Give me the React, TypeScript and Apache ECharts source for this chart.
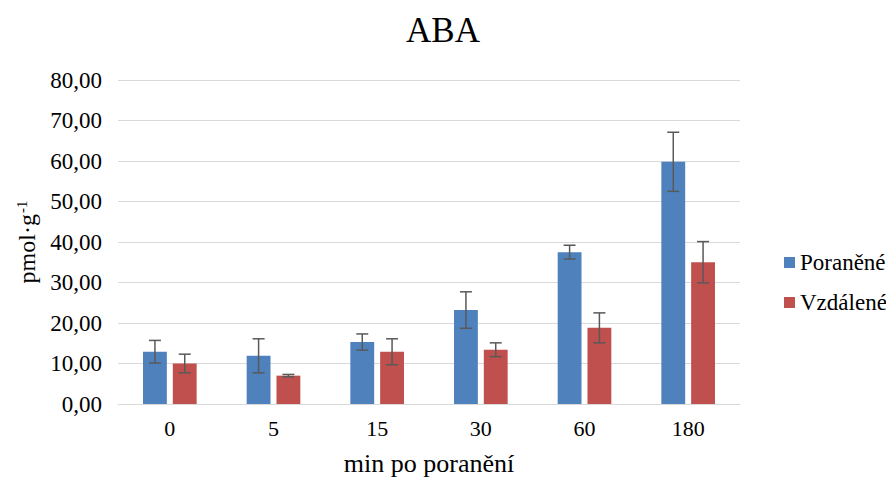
import React, { useEffect, useRef } from "react";
import * as echarts from "echarts";

const categories = ["0", "5", "15", "30", "60", "180"];
const poranene = [12.9, 11.9, 15.3, 23.2, 37.5, 59.8];
const poraneneErr = [2.8, 4.2, 2.0, 4.5, 1.7, 7.3];
const vzdalene = [10.0, 7.0, 12.9, 13.4, 18.8, 35.0];
const vzdaleneErr = [2.3, 0.3, 3.2, 1.7, 3.7, 5.1];
const yTicks = [0, 80, 10];

const SERIF = "Liberation Serif";
const BLUE = "#4F81BD";
const RED = "#C0504D";
const BAR_FRAC = 0.23;
const GAP_FRAC = 0.25;

const serif = (size: number, extra: any = {}) => ({
  fontFamily: SERIF,
  fontSize: size,
  fontWeight: "normal",
  color: "#000",
  ...extra,
});

function errSeries(name: string, vals: number[], errs: number[], sign: number) {
  return {
    type: "custom",
    name,
    z: 10,
    silent: true,
    data: vals.map((v, i) => [i, v - errs[i], v + errs[i]]),
    encode: { x: 0, y: [1, 2] },
    renderItem: (params: any, api: any) => {
      const idx = api.value(0);
      const lo = api.value(1);
      const hi = api.value(2);
      const w = api.size([1, 0])[0];
      const off = (sign * w * BAR_FRAC * (1 + GAP_FRAC)) / 2;
      const pLo = api.coord([idx, lo]);
      const pHi = api.coord([idx, hi]);
      const cx = pLo[0] + off;
      const cap = 6;
      const style = { stroke: "#595959", lineWidth: 1.5 };
      return {
        type: "group",
        children: [
          { type: "line", shape: { x1: cx, y1: pLo[1], x2: cx, y2: pHi[1] }, style },
          { type: "line", shape: { x1: cx - cap, y1: pLo[1], x2: cx + cap, y2: pLo[1] }, style },
          { type: "line", shape: { x1: cx - cap, y1: pHi[1], x2: cx + cap, y2: pHi[1] }, style },
        ],
      };
    },
  };
}

export default function App() {
  const ref = useRef<HTMLDivElement>(null);
  useEffect(() => {
    if (!ref.current) return;
    const chart = echarts.init(ref.current, null, { renderer: "svg" });
    chart.setOption({
      animation: false,
      backgroundColor: "#ffffff",
      textStyle: { fontFamily: SERIF, color: "#000" },
      title: {
        text: "ABA",
        left: "center",
        top: 8,
        textStyle: serif(35),
      },
      legend: {
        orient: "vertical",
        left: 779,
        top: 246,
        itemWidth: 11,
        itemHeight: 11,
        itemGap: 17,
        itemTextGap: 4,
        icon: "rect",
        data: ["Poraněné", "Vzdálené"],
        formatter: (name: string) => `{s|${name}}`,
        textStyle: { ...serif(23), rich: { s: serif(23) } },
      },
      grid: { left: 118, right: 146, top: 80, bottom: 76, containLabel: false },
      xAxis: {
        type: "category",
        data: categories,
        name: "{s|min po poranění}",
        nameLocation: "middle",
        nameGap: 46,
        nameTextStyle: { ...serif(26), rich: { s: serif(26) } },
        axisLine: { lineStyle: { color: "#D9D9D9", width: 1 } },
        axisTick: { show: false },
        axisLabel: {
          ...serif(22),
          margin: 13,
          formatter: (v: string) => `{s|${v}}`,
          rich: { s: serif(22) },
        },
      },
      yAxis: {
        type: "value",
        min: yTicks[0],
        max: yTicks[1],
        interval: yTicks[2],
        name: "{a|pmol·g}{b|-1}",
        nameLocation: "middle",
        nameRotate: 90,
        nameGap: 76,
        nameTextStyle: {
          ...serif(24),
          rich: {
            a: serif(24),
            b: serif(15, { verticalAlign: "top", padding: [0, 0, 10, 1] }),
          },
        },
        axisLine: { show: false },
        axisTick: { show: false },
        splitLine: { lineStyle: { color: "#D9D9D9", width: 1 } },
        axisLabel: {
          ...serif(23),
          margin: 16,
          formatter: (v: number) => `{s|${v.toFixed(2).replace(".", ",")}}`,
          rich: { s: serif(23) },
        },
      },
      series: [
        {
          type: "bar",
          name: "Poraněné",
          data: poranene,
          barWidth: (BAR_FRAC * 100).toFixed(0) + "%",
          barGap: (GAP_FRAC * 100).toFixed(0) + "%",
          itemStyle: { color: BLUE },
        },
        {
          type: "bar",
          name: "Vzdálené",
          data: vzdalene,
          barWidth: (BAR_FRAC * 100).toFixed(0) + "%",
          barGap: (GAP_FRAC * 100).toFixed(0) + "%",
          itemStyle: { color: RED },
        },
        errSeries("errP", poranene, poraneneErr, -1),
        errSeries("errV", vzdalene, vzdaleneErr, 1),
      ],
    });
    return () => chart.dispose();
  }, []);
  return (
    <div
      ref={ref}
      style={{ position: "fixed", left: 0, top: 0, width: 886, height: 481 }}
    />
  );
}
